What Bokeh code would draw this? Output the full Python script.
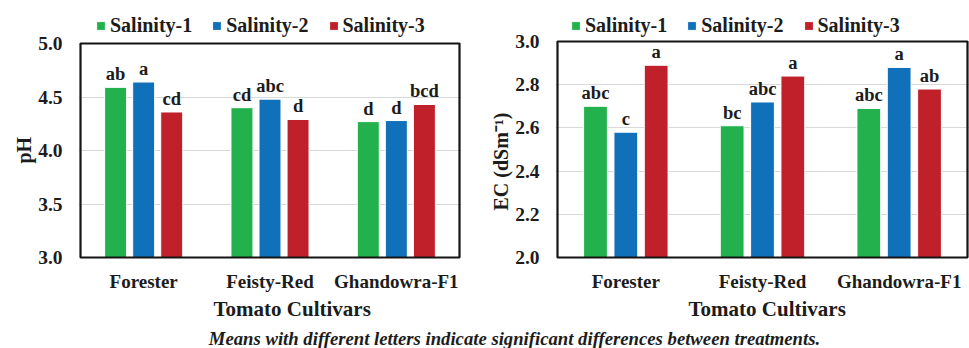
from bokeh.plotting import figure
from bokeh.models import (FactorRange, Range1d, FixedTicker, NumeralTickFormatter,
                          Legend, LegendItem, ColumnDataSource, Title, Div)
from bokeh.core.properties import value
from bokeh.transform import dodge
from bokeh.layouts import row, column
from bokeh.embed import file_html
from bokeh.resources import INLINE

cultivars = ["Forester", "Feisty-Red", "Ghandowra-F1"]
series = ["Salinity-1", "Salinity-2", "Salinity-3"]
colors = ["#22B14C", "#1170BA", "#C0202A"]

ph_s1 = [4.59, 4.40, 4.27]
ph_s2 = [4.64, 4.48, 4.28]
ph_s3 = [4.36, 4.29, 4.43]
ph_l1 = ["ab", "cd", "d"]
ph_l2 = ["a", "abc", "d"]
ph_l3 = ["cd", "d", "bcd"]
ph_ticks = [3.0, 3.5, 4.0, 4.5, 5.0]

ec_s1 = [2.70, 2.61, 2.69]
ec_s2 = [2.58, 2.72, 2.88]
ec_s3 = [2.89, 2.84, 2.78]
ec_l1 = ["abc", "bc", "abc"]
ec_l2 = ["c", "abc", "a"]
ec_l3 = ["a", "a", "ab"]
ec_ticks = [2.0, 2.2, 2.4, 2.6, 2.8, 3.0]

x_title = "Tomato Cultivars"
footnote = "Means with different letters indicate significant differences between treatments."

FONT = "Liberation Serif"
TXT = "#1c1c1c"
PADPX = 2


def make_panel(vals, letters, ymin, ymax, ticks, ylabel, fw, plot_top, bl, br,
               leg_x, title_off, ylab_off):
    frame_top = 5
    frame_bottom = 257
    fh = frame_bottom - frame_top
    px_per_unit = (frame_bottom - plot_top) / (ymax - ymin)
    y_end = ymin + fh / px_per_unit
    n = len(cultivars)
    pad = PADPX / (fw / n)
    p = figure(x_range=FactorRange(*cultivars, range_padding=pad,
                                   range_padding_units="absolute"),
               y_range=Range1d(ymin, y_end),
               frame_width=fw + 2 * PADPX, frame_height=fh,
               min_border_left=bl - PADPX, min_border_right=max(br - PADPX, 0),
               min_border_top=frame_top, min_border_bottom=68,
               output_backend="svg", toolbar_location=None,
               background_fill_color="white", border_fill_color="white")
    p.outline_line_color = None
    src = ColumnDataSource(dict(cult=cultivars,
                                v1=vals[0], v2=vals[1], v3=vals[2],
                                l1=letters[0], l2=letters[1], l3=letters[2]))
    offs = [-0.222, 0.0, 0.222]
    items = []

    p.xgrid.grid_line_color = None
    p.ygrid.grid_line_color = "#D9D9D9"
    p.ygrid.grid_line_width = 1.2
    p.ygrid.ticker = FixedTicker(ticks=ticks)

    for i in range(3):
        r = p.vbar(x=dodge("cult", offs[i], range=p.x_range), top="v%d" % (i + 1),
                   bottom=ymin, width=0.174, source=src,
                   fill_color=colors[i], line_color="white", line_width=1)
        p.text(x=dodge("cult", offs[i], range=p.x_range), y="v%d" % (i + 1),
               text="l%d" % (i + 1), source=src, y_offset=-13,
               text_align="center", text_baseline="alphabetic",
               text_font=value(FONT), text_font_style="bold", text_font_size="18.5px",
               text_color=TXT)
        items.append(LegendItem(label=series[i], renderers=[r]))

    # plot-area border (from the axis limits)
    p.quad(left=[0], right=[n], bottom=[ymin], top=[ymax], fill_color=None,
           line_color="#141414", line_alpha=1.0, line_width=2.2, level="overlay")

    leg = Legend(items=items, orientation="horizontal",
                 location=(leg_x + PADPX, frame_bottom - 37),
                 padding=0, margin=0, spacing=19, label_standoff=4,
                 glyph_width=11, glyph_height=11, label_height=20,
                 border_line_color=None, background_fill_alpha=0,
                 label_text_font=FONT, label_text_font_style="bold",
                 label_text_font_size="20px", label_text_color=TXT)
    p.add_layout(leg, "center")

    ya = p.yaxis[0]
    ya.ticker = FixedTicker(ticks=ticks)
    ya.formatter = NumeralTickFormatter(format="0.0")
    ya.axis_line_color = None
    ya.major_tick_line_color = None
    ya.minor_tick_line_color = None
    ya.major_tick_out = 0
    ya.major_label_standoff = 18 - PADPX
    ya.major_label_text_font = FONT
    ya.major_label_text_font_style = "bold"
    ya.major_label_text_font_size = "19.5px"
    ya.major_label_text_color = TXT

    yt = Title(text=ylabel, align="left", offset=ylab_off, standoff=2,
               text_font=FONT, text_font_style="bold", text_font_size="20px",
               text_color=TXT)
    p.add_layout(yt, "left")

    xa = p.xaxis[0]
    xa.axis_line_color = None
    xa.major_tick_line_color = None
    xa.major_tick_out = 0
    xa.major_label_standoff = 13
    xa.major_label_text_font = FONT
    xa.major_label_text_font_style = "bold"
    xa.major_label_text_font_size = "19px"
    xa.major_label_text_color = TXT

    t = Title(text=x_title, align="left", offset=title_off + PADPX, standoff=0,
              text_font=FONT, text_font_style="bold", text_font_size="21px",
              text_color=TXT)
    p.add_layout(t, "below")
    return p


p1 = make_panel([ph_s1, ph_s2, ph_s3], [ph_l1, ph_l2, ph_l3], 3.0, 5.0, ph_ticks, "pH",
                379, 43, 80, 21, 15, 133, 94)
p2 = make_panel([ec_s1, ec_s2, ec_s3], [ec_l1, ec_l2, ec_l3], 2.0, 3.0, ec_ticks,
                "EC (dSm\u207b\u00b9)", 410, 41, 77, 2, 13, 131, 47)

note = Div(text='<div style="font-family:\'Liberation Serif\';font-style:italic;font-weight:bold;'
                'font-size:18.7px;color:#1c1c1c;text-align:center;width:969px;padding-left:60px;'
                'box-sizing:border-box;line-height:20px;padding-top:4px;">' + footnote + '</div>',
           width=969, height=23, styles={"margin": "0"})

layout = column(row(p1, p2, spacing=0), note, spacing=0)
open("out.html", "w").write(file_html(layout, INLINE))
